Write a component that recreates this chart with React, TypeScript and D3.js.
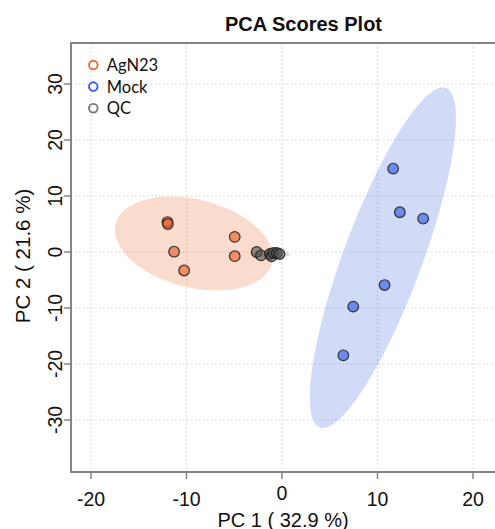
import * as d3 from "d3";
import React, { useRef, useEffect } from "react";

// scores (PC1, PC2)
const agnPC1 = [-12.0, -11.95, -4.95, -11.3, -4.95, -10.25];
const agnPC2 = [5.35, 5.0, 2.7, 0.05, -0.75, -3.3];
const mockPC1 = [11.64, 12.34, 14.78, 10.74, 7.46, 6.42];
const mockPC2 = [14.9, 7.1, 5.95, -5.9, -9.75, -18.45];
const qcPC1 = [-2.65, -2.2, -1.26, -1.08, -0.91, -0.55, -0.26];
const qcPC2 = [0.0, -0.59, -0.36, -0.77, -0.18, -0.18, -0.36];

const groupNames = ["AgN23", "Mock", "QC"];
const xTicks = [-20, -10, 0, 10, 20];
const yTicks = [-30, -20, -10, 0, 10, 20, 30];

const WIDTH = 495;
const HEIGHT = 529;

const groups = [
  { name: "AgN23", x: agnPC1, y: agnPC2, base: "rgb(230,90,30)", legend: "#e8703a", hull: "rgba(235,120,70,0.26)" },
  { name: "Mock", x: mockPC1, y: mockPC2, base: "rgb(40,85,220)", legend: "#3d5be8", hull: "rgba(85,118,225,0.27)" },
  { name: "QC", x: qcPC1, y: qcPC2, base: "rgb(80,80,80)", legend: "#777777", hull: "rgba(120,120,120,0.25)" },
];

// 95% normal confidence ellipse from a group's points
const ellipse = (xs, ys) => {
  const n = xs.length;
  const mx = d3.mean(xs);
  const my = d3.mean(ys);
  let sxx = 0, syy = 0, sxy = 0;
  for (let i = 0; i < n; i++) {
    sxx += (xs[i] - mx) ** 2;
    syy += (ys[i] - my) ** 2;
    sxy += (xs[i] - mx) * (ys[i] - my);
  }
  sxx /= n - 1;
  syy /= n - 1;
  sxy /= n - 1;
  const t = Math.sqrt(5.991);
  const l11 = Math.sqrt(sxx);
  const l21 = sxy / l11;
  const l22 = Math.sqrt(Math.max(syy - l21 * l21, 0));
  return d3.range(0, 101).map((i) => {
    const a = (i / 100) * 2 * Math.PI;
    const c = Math.cos(a), s = Math.sin(a);
    return [mx + t * l11 * c, my + t * (l21 * c + l22 * s)];
  });
};

const PCAPlot = () => {
  const ref = useRef(null);

  useEffect(() => {
    const svg = d3.select(ref.current);
    svg.selectAll("*").remove();

    const left = 71, right = 497, top = 43, bottom = 472;
    const x = d3.scaleLinear().domain([-20, 20]).range([91, 473]);
    const y = d3.scaleLinear().domain([-30, 30]).range([420, 84]);

    // grid
    const grid = svg.append("g").attr("stroke", "#cfcfcf").attr("stroke-dasharray", "1.5,2.5");
    grid.selectAll("line.vx").data(xTicks).join("line")
      .attr("x1", (d) => x(d)).attr("x2", (d) => x(d))
      .attr("y1", top).attr("y2", bottom);
    grid.selectAll("line.hy").data(yTicks).join("line")
      .attr("x1", left).attr("x2", right)
      .attr("y1", (d) => y(d)).attr("y2", (d) => y(d));

    // ellipses
    const line = d3.line().x((d) => x(d[0])).y((d) => y(d[1])).curve(d3.curveLinearClosed);
    svg.append("g").selectAll("path").data(groups).join("path")
      .attr("d", (g) => line(ellipse(g.x, g.y)))
      .attr("fill", (g) => g.hull)
      .attr("stroke", "none");

    // points
    groups.forEach((g) => {
      svg.append("g").selectAll("circle").data(g.x.map((v, i) => [v, g.y[i]])).join("circle")
        .attr("cx", (d) => x(d[0]))
        .attr("cy", (d) => y(d[1]))
        .attr("r", 5.3)
        .attr("fill", g.base)
        .attr("fill-opacity", 0.6)
        .attr("stroke", "#1a1a1a")
        .attr("stroke-opacity", 0.85)
        .attr("stroke-width", 1.2);
    });

    // frame
    const frame = svg.append("g").attr("stroke", "#858585").attr("stroke-width", 2).attr("fill", "none");
    frame.append("line").attr("x1", left).attr("x2", right).attr("y1", top).attr("y2", top);
    frame.append("line").attr("x1", left).attr("x2", right).attr("y1", bottom).attr("y2", bottom);
    frame.append("line").attr("x1", left).attr("x2", left).attr("y1", top - 1).attr("y2", bottom + 1);

    // x axis
    const xa = svg.append("g");
    xa.selectAll("line").data(xTicks).join("line")
      .attr("x1", (d) => x(d)).attr("x2", (d) => x(d))
      .attr("y1", bottom).attr("y2", bottom + 7)
      .attr("stroke", "#858585").attr("stroke-width", 1.5);
    xa.selectAll("text").data(xTicks).join("text")
      .attr("x", (d) => x(d)).attr("y", (d) => (d === 0 ? 500 : 506))
      .attr("text-anchor", "middle")
      .attr("font-family", "Liberation Sans, Arial, sans-serif")
      .attr("font-size", 19.5).attr("fill", "#111")
      .text((d) => d);

    // y axis
    const ya = svg.append("g");
    ya.selectAll("line").data(yTicks).join("line")
      .attr("x1", left - 7).attr("x2", left)
      .attr("y1", (d) => y(d)).attr("y2", (d) => y(d))
      .attr("stroke", "#858585").attr("stroke-width", 1.5);
    ya.selectAll("text").data(yTicks).join("text")
      .attr("transform", (d) => `translate(61.5,${y(d)}) rotate(-90)`)
      .attr("text-anchor", "middle")
      .attr("font-family", "Liberation Sans, Arial, sans-serif")
      .attr("font-size", 19.5).attr("fill", "#111")
      .text((d) => d);

    // titles
    svg.append("text")
      .attr("x", 303.5).attr("y", 31)
      .attr("text-anchor", "middle")
      .attr("font-family", "Liberation Sans, Arial, sans-serif")
      .attr("font-weight", "bold").attr("font-size", 20)
      .attr("fill", "#111")
      .text("PCA Scores Plot");
    svg.append("text")
      .attr("x", 283).attr("y", 526.5)
      .attr("text-anchor", "middle")
      .attr("font-family", "Liberation Sans, Arial, sans-serif")
      .attr("font-size", 20).attr("fill", "#111")
      .text("PC 1 ( 32.9 %)");
    svg.append("text")
      .attr("transform", "translate(30,256) rotate(-90)")
      .attr("text-anchor", "middle")
      .attr("font-family", "Liberation Sans, Arial, sans-serif")
      .attr("font-size", 20.5).attr("fill", "#111")
      .text("PC 2 ( 21.6 %)");

    // legend
    const leg = svg.append("g").selectAll("g").data(groupNames).join("g")
      .attr("transform", (d, i) => `translate(93.3,${65 + i * 21.6})`);
    leg.append("circle")
      .attr("r", 4.3)
      .attr("fill", "none")
      .attr("stroke", (d, i) => groups[i].legend)
      .attr("stroke-width", 1.9);
    leg.append("text")
      .attr("x", 13.5).attr("y", 6)
      .attr("font-family", "Lato, Open Sans, sans-serif")
      .attr("font-size", 16.5).attr("fill", "#111")
      .text((d) => d);
  }, []);

  return <svg ref={ref} width={WIDTH} height={HEIGHT} style={{ position: "absolute", left: 0, top: 0, background: "#fff" }}></svg>;
};

export default function App() {
  return <PCAPlot />;
}
